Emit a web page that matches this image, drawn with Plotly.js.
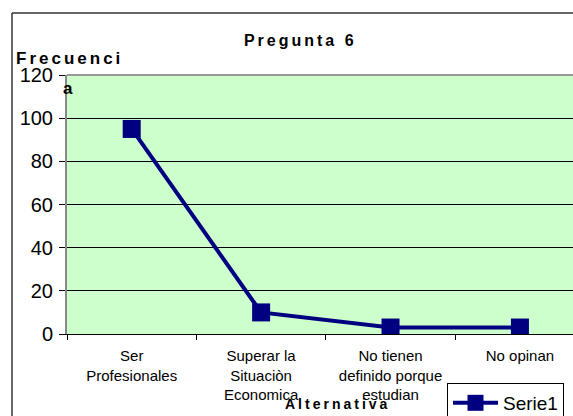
<!DOCTYPE html>
<html>
<head>
<meta charset="utf-8">
<script src="https://cdn.plot.ly/plotly-3.0.1.min.js"></script>
<style>
html,body{margin:0;padding:0;background:#fff;}
.gtitle{letter-spacing:3px;}
</style>
</head>
<body>
<div id="chart" style="width:573px;height:416px;"></div>
<script>
var categories = ["Ser<br>Profesionales", "Superar la<br>Situaciòn<br>Economica", "No tienen<br>definido porque<br>estudian", "No opinan"];
var serie1 = [95, 10, 3, 3];
var yTicks = [0, 20, 40, 60, 80, 100, 120];

var trace = {
  x: categories,
  y: serie1,
  type: 'scatter',
  mode: 'lines+markers',
  name: 'Serie1',
  line: {color: '#000080', width: 4},
  marker: {symbol: 'square', size: 18, color: '#000080'},
  hoverinfo: 'none'
};

var layout = {
  width: 573,
  height: 416,
  margin: {l: 67, r: 0, t: 75, b: 82, autoexpand: false},
  paper_bgcolor: '#ffffff',
  plot_bgcolor: '#CCFFCC',
  font: {family: 'Arial, Liberation Sans, sans-serif', color: '#000'},
  title: {
    text: 'Pregunta 6',
    font: {size: 16, color: '#000', weight: 'bold'},
    x: 0.524, xanchor: 'center',
    y: 0.904, yanchor: 'middle'
  },
  showlegend: true,
  legend: {
    x: 0.751, xanchor: 'left',
    y: -0.189, yanchor: 'top',
    bordercolor: '#000', borderwidth: 1,
    bgcolor: '#fff',
    itemwidth: 45,
    font: {size: 19, color: '#000'}
  },
  xaxis: {
    type: 'category',
    range: [-0.5, 3.41],
    showgrid: false,
    zeroline: false,
    showline: true,
    linecolor: '#000',
    linewidth: 1,
    ticks: 'outside',
    tickson: 'boundaries',
    ticklen: 5,
    tickcolor: '#000',
    ticklabelstandoff: 8,
    tickfont: {size: 15, color: '#000'},
    fixedrange: true
  },
  yaxis: {
    range: [0, 120],
    tickvals: yTicks,
    ticktext: yTicks.map(String),
    showgrid: true,
    gridcolor: '#000',
    gridwidth: 1,
    zeroline: false,
    showline: true,
    linecolor: '#888',
    linewidth: 2,
    ticks: 'outside',
    ticklen: 6,
    tickcolor: '#000',
    ticklabelstandoff: 2,
    tickfont: {size: 20, color: '#000'},
    fixedrange: true
  },
  shapes: [
    {type: 'line', xref: 'paper', yref: 'paper', x0: -0.1087, x1: 1.1, y0: 1.2394, y1: 1.2394, line: {color: '#333', width: 1.5}},
    {type: 'line', xref: 'paper', yref: 'paper', x0: -0.1087, x1: -0.1087, y0: 1.2394, y1: -0.4, line: {color: '#333', width: 1.5}},
    {type: 'line', xref: 'paper', yref: 'paper', x0: 0, x1: 1, y0: 1, y1: 1, line: {color: '#999', width: 2}}
  ],
  annotations: [
    {text: '<b><span style="letter-spacing:3px">Frecuenci</span></b>', xref: 'paper', yref: 'paper',
     x: (69 - 67) / 506, y: (334 - 59) / 259, xanchor: 'center', yanchor: 'middle',
     showarrow: false, font: {size: 17, color: '#000'}},
    {text: '<b>a</b>', xref: 'paper', yref: 'paper',
     x: (68 - 67) / 506, y: (334 - 88) / 259, xanchor: 'center', yanchor: 'middle',
     showarrow: false, font: {size: 17, color: '#000'}},
    {text: '<b><span style="letter-spacing:3px">Alternativa</span></b>', xref: 'paper', yref: 'paper',
     x: (337 - 67) / 506, y: (334 - 404) / 259, xanchor: 'center', yanchor: 'middle',
     showarrow: false, font: {size: 14, color: '#000'}}
  ]
};

Plotly.newPlot('chart', [trace], layout, {displayModeBar: false, staticPlot: true});
</script>
</body>
</html>
